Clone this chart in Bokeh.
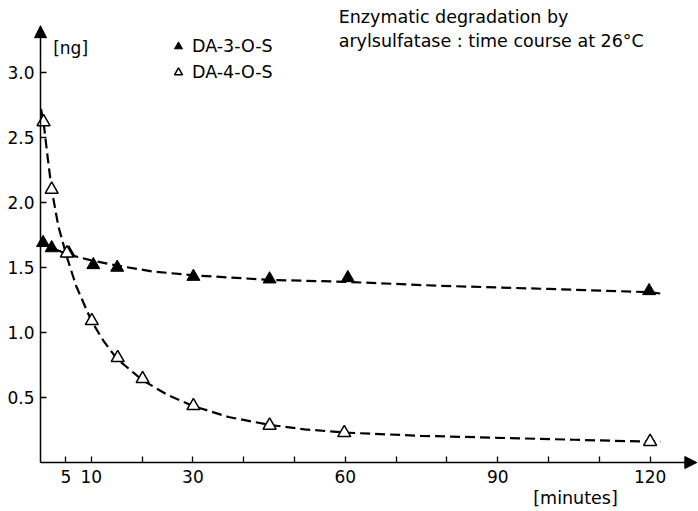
from bokeh.plotting import figure
from bokeh.models import (FixedTicker, Arrow, NormalHead, Label, Legend, LegendItem, Range1d,
                          LinearAxis)
from bokeh.embed import file_html
from bokeh.resources import INLINE

# ---- data ----
t_da3 = [0.5, 2.2, 5.6, 10.4, 15.1, 30.1, 45.1, 60.5, 119.8]
ng_da3 = [1.69, 1.65, 1.61, 1.52, 1.50, 1.43, 1.41, 1.42, 1.32]
t_da4 = [0.6, 2.2, 5.2, 10.1, 15.2, 20.1, 30.1, 45.1, 59.8, 120.0]
ng_da4 = [2.62, 2.10, 1.61, 1.09, 0.805, 0.644, 0.436, 0.285, 0.228, 0.16]

# fitted (dashed) curves
curve_da3_t = [0.2, 2.2, 5.5, 10, 15, 22, 30, 45, 60, 78, 100, 120, 122]
curve_da3_v = [1.70, 1.65, 1.60, 1.555, 1.515, 1.47, 1.44, 1.405, 1.39, 1.36, 1.335, 1.31, 1.30]
curve_da4_t = [0.1, 0.6, 1.4, 2.2, 3.5, 5.2, 7.0, 10, 12.5, 15, 20, 25, 30, 37, 45, 52, 60, 75, 90, 105, 120, 122]
curve_da4_v = [2.72, 2.62, 2.35, 2.10, 1.82, 1.58, 1.36, 1.09, 0.93, 0.80, 0.635, 0.52, 0.435, 0.35, 0.29, 0.255, 0.23, 0.205, 0.19, 0.175, 0.16, 0.158]

x_tick_values = [5, 10, 20, 30, 40, 50, 60, 70, 80, 90, 100, 110, 120]
x_tick_labels = ["5", "10", "", "30", "", "", "60", "", "", "90", "", "", "120"]
y_tick_values = [0.5, 1.0, 1.5, 2.0, 2.5, 3.0]
y_tick_labels = ["0.5", "1.0", "1.5", "2.0", "2.5", "3.0"]

series_names = ["DA-3-O-S", "DA-4-O-S"]
title_lines = ["Enzymatic degradation by", "arylsulfatase : time course at 26\u00b0C"]
y_unit = "[ng]"
x_unit = "[minutes]"

FONT = "DejaVu Sans"

# frame covers the whole canvas; axes are pinned at x=0 / y=0
p = figure(width=698, height=511, output_backend="svg", toolbar_location=None,
           x_range=Range1d(-40 / 5.08, 658 / 5.08), y_range=Range1d(-49 / 130, 462 / 130),
           x_axis_location=None, y_axis_location=None, min_border=0)
p.grid.visible = False
p.outline_line_color = None
p.background_fill_color = "white"
p.border_fill_color = "white"

xax = LinearAxis(fixed_location=0)
yax = LinearAxis(fixed_location=0)
p.add_layout(xax, "below")
p.add_layout(yax, "left")

for ax in (xax, yax):
    ax.axis_line_color = None
    ax.major_tick_in = 6
    ax.major_tick_out = 0
    ax.minor_tick_line_color = None
    ax.major_tick_line_color = "black"
    ax.major_tick_line_width = 1.3
    ax.major_label_text_font = FONT
    ax.major_label_text_font_size = "17px"
    ax.major_label_text_color = "black"

xax.ticker = FixedTicker(ticks=x_tick_values)
xax.major_label_overrides = {v: l for v, l in zip(x_tick_values, x_tick_labels)}
xax.major_label_standoff = 7
yax.ticker = FixedTicker(ticks=y_tick_values)
yax.major_label_overrides = {v: l for v, l in zip(y_tick_values, y_tick_labels)}
yax.major_label_standoff = 6

# axes with arrow heads
p.add_layout(Arrow(x_start=0, y_start=0, x_end=129.2, y_end=0, line_width=1.5, line_color="black",
                   end=NormalHead(size=12, fill_color="black", line_color="black")))
p.add_layout(Arrow(x_start=0, y_start=0, x_end=0, y_end=3.36, line_width=1.5, line_color="black",
                   end=NormalHead(size=12, fill_color="black", line_color="black")))

# dashed curves
p.line(curve_da3_t, curve_da3_v, line_color="black", line_width=2.2, line_dash="10 5")
p.line(curve_da4_t, curve_da4_v, line_color="black", line_width=2.2, line_dash="10 5")

r3 = p.scatter(t_da3, ng_da3, marker="triangle", size=13, fill_color="black", line_color="black")
r4 = p.scatter(t_da4, ng_da4, marker="triangle", size=13, fill_color="white", line_color="black", line_width=1.5)

legend = Legend(items=[LegendItem(label=series_names[0], renderers=[r3]),
                       LegendItem(label=series_names[1], renderers=[r4])],
                location=(168, 429), orientation="vertical",
                border_line_color=None, background_fill_alpha=0,
                padding=0, margin=0, spacing=6, glyph_width=20, glyph_height=20,
                label_height=20, label_standoff=4,
                label_text_font=FONT, label_text_font_size="17.5px", label_text_color="black")
p.add_layout(legend)

p.add_layout(Label(x=58.7, y=3.43, text=title_lines[0], text_font=FONT, text_font_size="17.5px",
                   text_baseline="middle", text_color="black"))
p.add_layout(Label(x=58.7, y=3.246, text=title_lines[1], text_font=FONT, text_font_size="17.5px",
                   text_baseline="middle", text_color="black"))
p.add_layout(Label(x=2.5, y=3.185, text=y_unit, text_font=FONT, text_font_size="17px",
                   text_baseline="middle", text_color="black"))
p.add_layout(Label(x=97.0, y=-0.27, text=x_unit, text_font=FONT, text_font_size="17.5px",
                   text_baseline="middle", text_color="black"))

open("out.html", "w").write(file_html(p, INLINE))
